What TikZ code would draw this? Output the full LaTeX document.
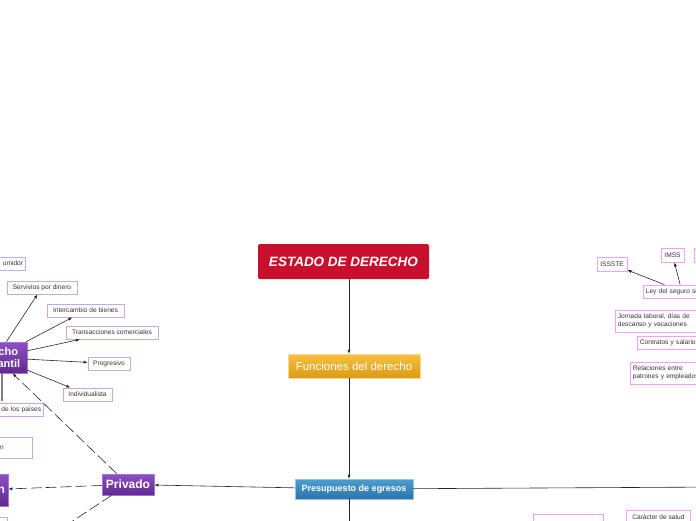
\documentclass[tikz,border=0pt]{standalone}
\usepackage{fontspec}
\setmainfont{Liberation Sans}
\usetikzlibrary{arrows.meta}

\definecolor{estadored}{HTML}{C8102E}
\definecolor{goldtop}{HTML}{F6C040}
\definecolor{goldbot}{HTML}{DC9A14}
\definecolor{bluetop}{HTML}{4B9DD2}
\definecolor{bluebot}{HTML}{2A74AB}
\definecolor{violettop}{HTML}{8E50C2}
\definecolor{violetbot}{HTML}{5E2A8C}
\definecolor{violetrim}{HTML}{A873D8}
\definecolor{leafviolet}{HTML}{C8A8E0}
\definecolor{leafpink}{HTML}{F2A0F0}
\definecolor{leaftext}{HTML}{333333}

\begin{document}
\begin{tikzpicture}[
  x=1pt, y=-1pt,
  main/.style={rectangle, align=center, inner sep=2pt, text=white},
  root/.style={main, fill=estadored, rounded corners=1.5pt, font=\bfseries\itshape\fontsize{13.5}{16}\selectfont},
  gold/.style={main, draw=goldtop!60!white, top color=goldtop, bottom color=goldbot, font=\fontsize{11.5}{14}\selectfont},
  blue/.style={main, draw=bluetop!60!white, top color=bluetop, bottom color=bluebot, font=\bfseries\fontsize{9}{11}\selectfont},
  violet/.style={main, draw=violetrim, line width=0.8pt, top color=violettop, bottom color=violetbot, font=\bfseries\fontsize{12}{14}\selectfont},
  leaf/.style={rectangle, draw=leafviolet, line width=0.8pt, fill=white, text=leaftext, font=\fontsize{6.6}{7.8}\selectfont, inner xsep=2.5pt, inner ysep=1pt, minimum height=13pt},
  pinkleaf/.style={leaf, draw=leafpink, align=left},
  line/.style={-{Latex[length=4pt,width=3.2pt]}, draw=black!85, line width=0.6pt},
  dashline/.style={line, dash pattern=on 11pt off 4pt}
]
\useasboundingbox (0,0) rectangle (696,520);

% free ends and guide lines
\coordinate (down) at (349,540);
\coordinate (derecha) at (720,487);
\coordinate (sur) at (50,536);
\coordinate (baja) at (2,0);

% main branch
\node[root, minimum width=171pt, minimum height=35pt] (estado) at (343.5,261.5) {ESTADO DE DERECHO};
\node[gold, minimum width=132pt, minimum height=24pt] (funciones) at (354,366) {Funciones del derecho};
\node[blue, minimum width=118pt, minimum height=20pt] (presupuesto) at (354,489) {Presupuesto de egresos};
\node[violet, minimum width=52pt, minimum height=21pt] (privado) at (128,484.5) {Privado};
\node[violet, minimum width=62pt, minimum height=31pt, font=\bfseries\fontsize{11}{12.5}\selectfont] (mercantil) at (-4,357.5) {Derecho\\Mercantil};
\node[violet, text width=50pt, align=right, inner xsep=3pt, minimum height=32pt] (ramaizq) at (-20,490) {n};

% leaves of mercantil
\node[leaf, anchor=east, text width=40pt, align=right] (consum) at (26,263.5) {umidor};
\node[leaf, minimum width=70pt] (servicios) at (42,287.5) {Servivios por dinero};
\node[leaf, minimum width=77pt] (intercambio) at (85.5,310.5) {Intercambio de bienes};
\node[leaf, minimum width=92pt] (transacciones) at (112,332.5) {Transacciones comerciales};
\node[leaf, minimum width=42pt] (progresivo) at (109,363.5) {Progresivo};
\node[leaf, minimum width=49pt] (individual) at (87.5,394.5) {Individualista};
\node[leaf, anchor=east, text width=60pt, align=right] (paises) at (44,409.5) {de los países};
\node[leaf, anchor=east, text width=50pt, align=right, minimum height=21pt] (fragn) at (33,447.5) {\makebox[30pt][l]{n}};
\node[leaf, anchor=north east, minimum width=30pt] (fragsur) at (8,517) {};

% leaves on the right
\node[pinkleaf, minimum width=23pt, minimum height=14pt] (imss) at (672.5,255) {IMSS};
\node[pinkleaf, anchor=west, minimum width=30pt, minimum height=14pt] (imssder) at (694,255) {};
\node[pinkleaf, minimum width=30pt, minimum height=14pt] (issste) at (612,264) {ISSSTE};
\node[pinkleaf, anchor=west, text width=72pt] (ley) at (643,291.5) {Ley del seguro social};
\node[pinkleaf, anchor=west, text width=85pt, minimum height=22pt] (jornada) at (615,321) {Jornada laboral, días de\\descanso y vacaciones};
\node[pinkleaf, anchor=west, text width=72pt] (contratos) at (637,343) {Contratos y salarios};
\node[pinkleaf, anchor=west, text width=78pt, minimum height=22pt] (relaciones) at (630,373) {Relaciones entre\\patrones y empleados};
\node[pinkleaf, anchor=north west, minimum width=64pt] (caracter) at (626,510) {Carácter de salud};
\node[pinkleaf, anchor=north west, minimum width=70pt] (adultez) at (533,514) {};

% connectors
\draw[line] (estado.south -| down) -- (funciones.north -| down);
\draw[line] (funciones.south -| down) -- (presupuesto.north -| down);
\draw[line, -] (presupuesto.south -| down) -- (down);
\draw[line, -] (presupuesto) -- (derecha);
\draw[line] (presupuesto) -- (privado);
\draw[dashline] (privado) -- (mercantil);
\draw[dashline] (privado) -- (ramaizq);
\draw[dashline, -] (privado) -- (sur);
\foreach \n in {servicios, intercambio, transacciones, progresivo, individual}
  \draw[line] (mercantil) -- (\n);
\draw[line, draw=gray, line width=1.4pt] (mercantil.south -| baja) -- (paises.north -| baja);
\draw[line] (ley) -- (issste);
\draw[line] (ley) -- (imss);
\end{tikzpicture}
\end{document}
